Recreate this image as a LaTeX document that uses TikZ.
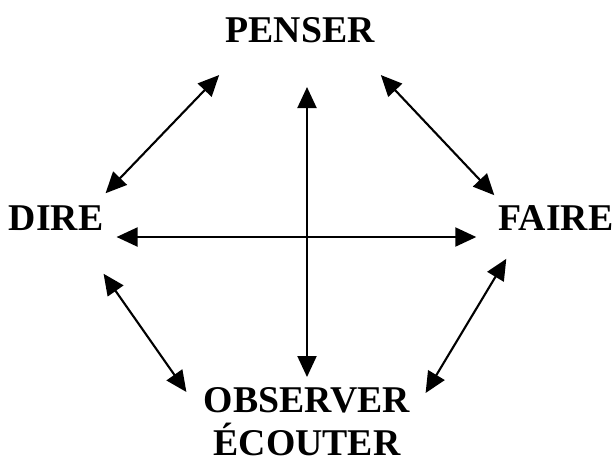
\documentclass[tikz,border=0pt]{standalone}
\usepackage{fontspec}
\setmainfont{Liberation Serif}
\usepackage{tikz}
\usetikzlibrary{arrows.meta, calc}

\begin{document}
\begin{tikzpicture}[x=0.02cm, y=-0.02cm,
  verb/.style={inner sep=0pt, font=\bfseries\fontsize{21.5}{24.5}\selectfont},
  arr/.style={line width=1.2pt, {Triangle[length=0.42cm, width=0.38cm]}-{Triangle[length=0.42cm, width=0.38cm]}}]
\useasboundingbox (0,0) rectangle (614,461);
% the four verbs
\node[verb] (penser) at (300,30) {PENSER};
\node[verb] (dire) at (56,218) {DIRE};
\node[verb] (faire) at (556,218) {FAIRE};
\node[verb, align=center, anchor=north] (observer) at (307,387) {OBSERVER\\ÉCOUTER};
% cross
\draw[arr] ([shift={(7,44)}]penser.south) -- ([shift={(0,-10)}]observer.north);
\draw[arr] ([shift={(13,19)}]dire.east) -- ([shift={(-22,19)}]faire.west);
% sides
\draw[arr] ([shift={(2,-12)}]dire.north east) -- ([shift={(-6,32)}]penser.south west);
\draw[arr] ([shift={(6,32)}]penser.south east) -- ([shift={(-4,-10)}]faire.north west);
\draw[arr] ([shift={(0,43)}]dire.south east) -- ([shift={(-17,5)}]observer.north west);
\draw[arr] ([shift={(8,28)}]faire.south west) -- ([shift={(15,6)}]observer.north east);
\end{tikzpicture}
\end{document}
